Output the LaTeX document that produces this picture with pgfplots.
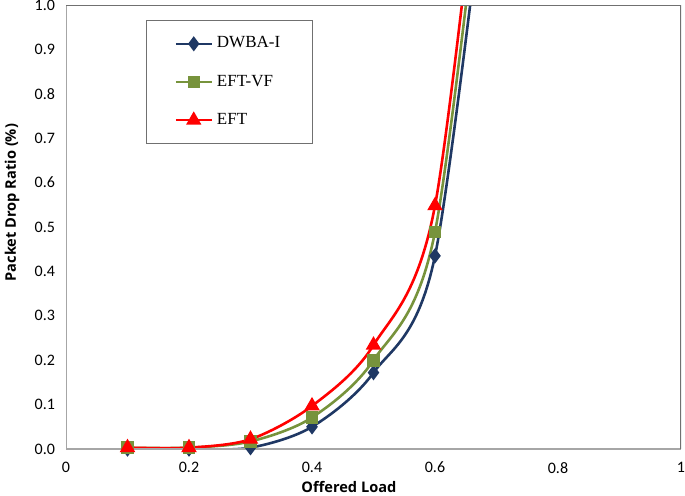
\documentclass[border=0pt]{standalone}
\usepackage{pgfplots}
\pgfplotsset{compat=1.18}
\usepackage{fontspec}
\setmainfont{Carlito}
\newfontfamily\legfont{Liberation Serif}
\newfontfamily\labfont{Open Sans}
\definecolor{cblue}{HTML}{1F3864}
\definecolor{cgreen}{HTML}{77933C}
\definecolor{cred}{HTML}{FF0000}
\definecolor{axgray}{HTML}{A6A6A6}
\definecolor{boxgray}{HTML}{707070}
\begin{document}
\begin{tikzpicture}
\begin{axis}[
  at={(0,0)}, anchor=south west,
  scale only axis,
  width=307.5pt, height=222pt,
  xmin=0, xmax=1, ymin=0, ymax=1,
  xtick={0,0.2,...,1.0},
  ytick={0,0.1,...,1.0},
  xticklabels={0,0.2,0.4,0.6,0.8,1},
  yticklabel style={/pgf/number format/fixed, /pgf/number format/fixed zerofill, /pgf/number format/precision=1, xshift=-2pt},
  /pgf/number format/assume math mode=true,
  tick style={draw=none},
  ticklabel style={font=\fontsize{8}{9}\selectfont},
  xticklabel style={yshift=-3pt},
  axis line style={draw=none},
  xlabel={\textbf{Offered Load}},
  ylabel={\textbf{Packet Drop Ratio (\%)}},
  label style={font=\labfont\fontsize{7.3}{8}\selectfont},
  xlabel style={at={(axis description cs:0.46,0)}, anchor=center, yshift=-19pt},
  ylabel style={at={(axis description cs:0,0.555)}, anchor=center, yshift=27pt},
  clip=true,
  legend style={at={(axis description cs:0.130,0.966)}, anchor=north west,
    draw=boxgray, line width=0.6pt, font=\legfont\fontsize{8.5}{9}\selectfont,
    inner xsep=14pt, inner ysep=6pt, row sep=8pt, cells={anchor=west}},
  legend image post style={line width=1.2pt},
  legend image code/.code={\draw[#1] (0pt,0pt) -- (18pt,0pt); \path[#1] plot coordinates {(9pt,0pt)};},
]
\addplot[cblue, line width=1.3pt, smooth, mark=diamond*, mark size=2.8pt, mark options={solid}]
  coordinates {(0.1,0.0) (0.2,0.0) (0.3,0.003) (0.4,0.05) (0.5,0.172) (0.6,0.435) (0.7,1.5)};
\addlegendentry{DWBA-I}
\addplot[cgreen, line width=1.3pt, smooth, mark=square*, mark size=2.5pt]
  coordinates {(0.1,0.003) (0.2,0.003) (0.3,0.017) (0.4,0.071) (0.5,0.2) (0.6,0.489) (0.7,1.6)};
\addlegendentry{EFT-VF}
\addplot[cred, line width=1.3pt, smooth, mark=triangle*, mark size=3.2pt]
  coordinates {(0.1,0.003) (0.2,0.003) (0.3,0.022) (0.4,0.097) (0.5,0.234) (0.6,0.548) (0.7,1.7)};
\addlegendentry{EFT}
\draw[axgray, line width=0.6pt] (rel axis cs:0,1) -- (rel axis cs:0,0) -- (rel axis cs:1,0);
\draw[boxgray, line width=0.8pt] (rel axis cs:0,1) -- (rel axis cs:1,1) -- (rel axis cs:1,0);
\end{axis}
\pgfresetboundingbox
\path[use as bounding box] (-33pt,-23pt) rectangle (309.5pt,224.5pt);
\end{tikzpicture}
\end{document}
